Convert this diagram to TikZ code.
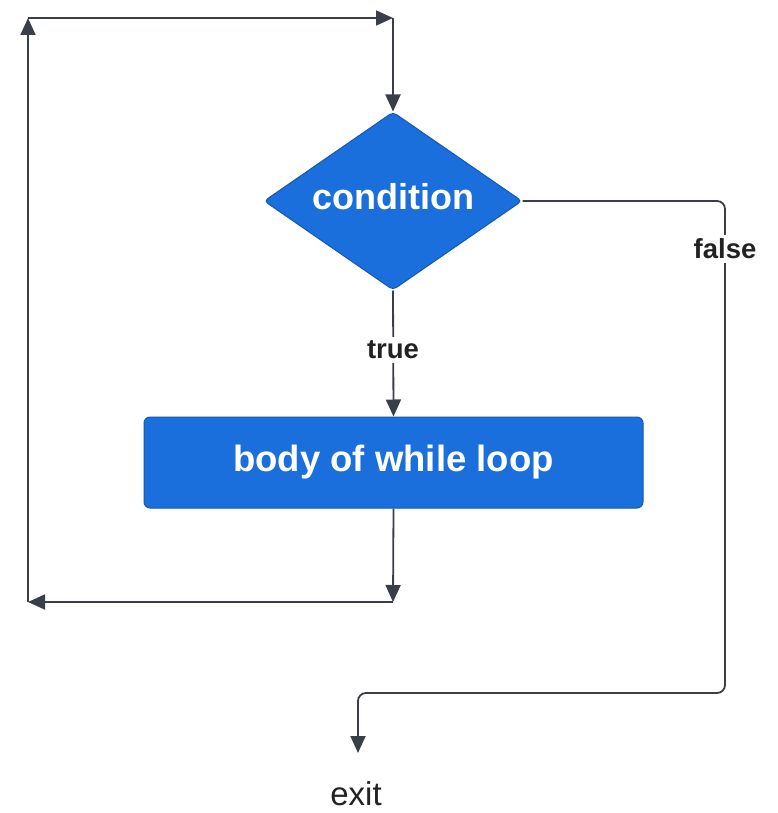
\documentclass[tikz,border=0pt]{standalone}
\usepackage{fontspec}
\setmainfont{Liberation Sans}
\usetikzlibrary{arrows.meta,shapes.geometric}
\definecolor{boxblue}{HTML}{1A6FDC}
\definecolor{boxedge}{HTML}{1558B0}
\definecolor{linegray}{HTML}{3A3E48}
\definecolor{labelgray}{HTML}{222222}
\tikzset{
  flow/.style={draw=linegray, line width=1.8pt, -{Triangle[length=17pt,width=15pt]}},
  bluebox/.style={fill=boxblue, draw=boxedge, line width=1pt},
  branchlabel/.style={fill=white, text=labelgray, font=\bfseries\fontsize{27.5}{30}\selectfont, inner sep=4pt},
  boxtext/.style={text=white, font=\bfseries\fontsize{36}{40}\selectfont}
}
\begin{document}
\begin{tikzpicture}[x=1pt,y=-1pt]
  \useasboundingbox (0,0) rectangle (777,813);

  % decision and loop body
  \node[bluebox, diamond, rounded corners=4pt, minimum width=258pt, minimum height=178pt, inner sep=0pt] (cond) at (393,201) {};
  \node[boxtext] (condtext) at (393,197) {condition};
  \node[bluebox, rectangle, rounded corners=6pt, minimum width=499pt, minimum height=91pt,
        boxtext, font=\bfseries\fontsize{36.5}{40}\selectfont] (body) at (393.5,462.5) {body of while loop};
  \node[text=labelgray, font=\fontsize{33}{38}\selectfont, anchor=north, inner sep=0pt] (exit) at (356,781) {exit};

  % corner points of the loop-back path
  \coordinate (bend1) at (393,602);
  \coordinate (bend2) at (28,602);
  \coordinate (bend3) at (28,18);
  \coordinate (bend4) at (393,18);

  % loop-back path
  \draw[flow] (body.south) -- (bend1);
  \draw[flow] (bend1) -- (bend2);
  \draw[flow] (bend2) -- (bend3);
  \draw[flow] (bend3) -- (bend4);
  \draw[flow] (bend4) -- (cond.north);

  % true branch
  \draw[flow] (cond.south) -- (body.north);
  \node[branchlabel] (truelbl) at (393,350) {true};

  % false branch to exit
  \draw[flow, rounded corners=8pt, shorten >=28pt] (cond.east) -- (725,201) -- (725,693) -- (358,693) -- (358,781);
  \node[branchlabel] (falselbl) at (725,249) {false};
\end{tikzpicture}
\end{document}
